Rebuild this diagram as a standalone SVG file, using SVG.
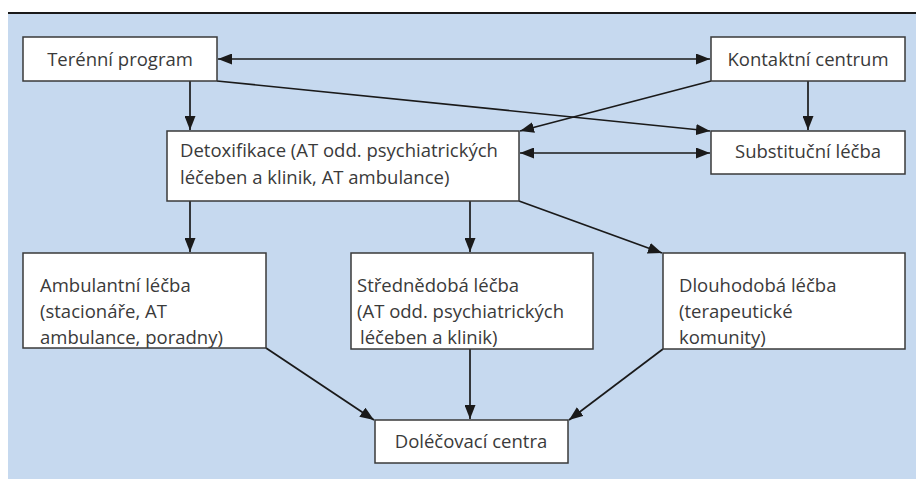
<svg xmlns="http://www.w3.org/2000/svg" width="916" height="479" viewBox="0 0 916 479">
<defs>
<marker id="ah" viewBox="0 0 10 10" refX="10" refY="5" markerWidth="14" markerHeight="11" markerUnits="userSpaceOnUse" orient="auto-start-reverse" preserveAspectRatio="none">
<path d="M0,0 L10,5 L0,10 z" fill="#1a1a1a"/>
</marker>
<style>
.box{fill:#fff;stroke:#3a3a3a;stroke-width:1.5}
.t{font-family:"Open Sans","Liberation Sans",sans-serif;font-size:18.5px;fill:#3a3a3a}
.c{text-anchor:middle}
.ln{stroke:#1a1a1a;stroke-width:1.7;fill:none;marker-end:url(#ah)}
.bi{marker-start:url(#ah)}
</style>
</defs>
<rect x="0" y="0" width="916" height="479" fill="#ffffff"/>
<rect x="8" y="13" width="908" height="466" fill="#c6d9ef"/>
<line x1="8" y1="13" x2="916" y2="13" stroke="#1a1a1a" stroke-width="2"/>
<g id="connectors">
<line class="ln bi" x1="218" y1="59" x2="710" y2="59"/>
<line class="ln" x1="190" y1="81" x2="190" y2="130"/>
<line class="ln" x1="217" y1="81" x2="710" y2="131"/>
<line class="ln" x1="711" y1="81" x2="520" y2="131"/>
<line class="ln" x1="808" y1="81" x2="808" y2="130"/>
<line class="ln bi" x1="520" y1="153" x2="710" y2="153"/>
<line class="ln" x1="190" y1="201" x2="190" y2="252"/>
<line class="ln" x1="470" y1="201" x2="470" y2="252"/>
<line class="ln" x1="519" y1="201" x2="662" y2="253"/>
<line class="ln" x1="266" y1="348" x2="374" y2="420"/>
<line class="ln" x1="470" y1="349" x2="470" y2="419"/>
<line class="ln" x1="663" y1="349" x2="569" y2="420"/>
</g>
<g id="n-teren"><rect class="box" x="23" y="37" width="194" height="44"/><text class="t c" x="120" y="66">Terénní program</text></g>
<g id="n-kontakt"><rect class="box" x="711" y="37" width="194" height="44"/><text class="t c" x="808" y="66">Kontaktní centrum</text></g>
<g id="n-detox"><rect class="box" x="167" y="131" width="352" height="70"/><text class="t" x="180" y="157">Detoxifikace (AT odd. psychiatrických</text><text class="t" x="180" y="184">léčeben a klinik, AT ambulance)</text></g>
<g id="n-subst"><rect class="box" x="711" y="131" width="194" height="43"/><text class="t c" x="808" y="158">Substituční léčba</text></g>
<g id="n-ambul"><rect class="box" x="23" y="253" width="243" height="95"/><text class="t" x="40" y="292">Ambulantní léčba</text><text class="t" x="40" y="318">(stacionáře, AT</text><text class="t" x="40" y="344">ambulance, poradny)</text></g>
<g id="n-stredne"><rect class="box" x="351" y="253" width="242" height="96"/><text class="t" x="357" y="292">Střednědobá léčba</text><text class="t" x="357" y="318">(AT odd. psychiatrických</text><text class="t" x="360" y="344">léčeben a klinik)</text></g>
<g id="n-dlouho"><rect class="box" x="663" y="253" width="242" height="96"/><text class="t" x="679" y="292">Dlouhodobá léčba</text><text class="t" x="679" y="318">(terapeutické</text><text class="t" x="679" y="344">komunity)</text></g>
<g id="n-dolec"><rect class="box" x="375" y="420" width="193" height="43"/><text class="t c" x="471" y="448">Doléčovací centra</text></g>
</svg>
